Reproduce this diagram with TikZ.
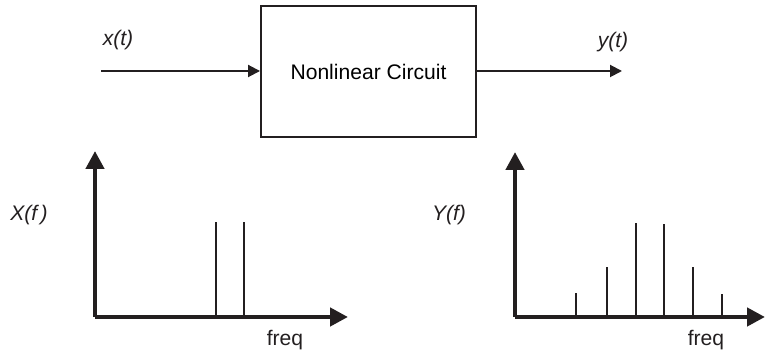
\documentclass[tikz,border=0pt]{standalone}
\usepackage{fontspec}
\setmainfont{Liberation Sans}
\usepackage{tikz}
\usetikzlibrary{positioning,arrows.meta}
\definecolor{inkdark}{RGB}{35,31,32}
\tikzset{
  blockbox/.style={draw=inkdark, line width=1.1pt, fill=white, minimum width=4.3cm, minimum height=2.62cm, align=center, font=\fontsize{12}{14}\selectfont},
  sig/.style={-{Triangle[length=2.4mm, width=2.4mm]}, line width=1.1pt, draw=inkdark},
  axis/.style={-{Triangle[length=3.6mm, width=3.6mm]}, line width=2.5pt, draw=inkdark},
  lbl/.style={font=\fontsize{12}{14}\selectfont\itshape, text=inkdark, inner sep=0pt},
  spec/.style={line width=1.4pt, draw=inkdark},
}

\begin{document}
\begin{tikzpicture}
  \useasboundingbox (0,0) rectangle (15.32,7.08);
  % block and its signals
  \node[blockbox] (circ) at (7.37,5.65) {Nonlinear Circuit};
  \coordinate (in) at (2.02,5.66);
  \coordinate (out) at (12.44,5.66);
  \draw[sig] (in) -- (circ.west |- in);
  \draw[sig] (circ.east |- out) -- (out);
  \node[lbl] (xt) at (2.36,6.28) {x(t)};
  \node[lbl] (yt) at (12.26,6.24) {y(t)};

  % input spectrum
  \coordinate (o1) at (1.90,0.74);
  \draw[axis] (o1) -- (1.90,4.06);
  \draw[axis] (o1) -- (6.96,0.74);
  \foreach \f/\h in {4.32/2.64, 4.88/2.64}
    \draw[spec] (\f,0.74) -- (\f,\h);
  \node[lbl] (xf) at (0.58,2.78) {X(f\,)};
  \node[lbl, font=\fontsize{12}{14}\selectfont] (fq1) at (5.70,0.28) {freq};

  % output spectrum
  \coordinate (o2) at (10.30,0.74);
  \draw[axis] (o2) -- (10.30,4.04);
  \draw[axis] (o2) -- (15.30,0.74);
  \foreach \f/\h in {11.52/1.22, 12.14/1.74, 12.72/2.62, 13.28/2.60, 13.86/1.74, 14.44/1.20}
    \draw[spec] (\f,0.74) -- (\f,\h);
  \node[lbl] (yf) at (8.98,2.78) {Y(f)};
  \node[lbl, font=\fontsize{12}{14}\selectfont] (fq2) at (14.12,0.28) {freq};
\end{tikzpicture}
\end{document}
